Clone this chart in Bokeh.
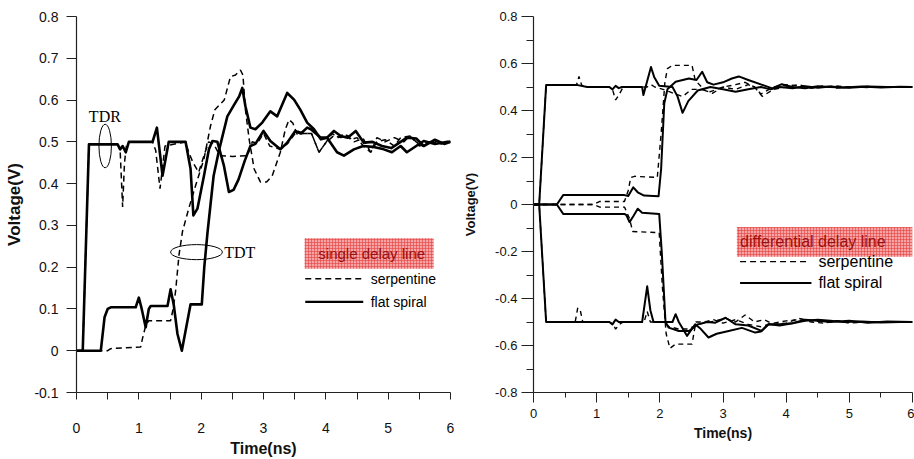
from bokeh.plotting import figure
from bokeh.layouts import row
from bokeh.models import Range1d, FixedTicker, CustomJSTickFormatter, AllLabels
from bokeh.core.properties import value
from bokeh.embed import file_html
from bokeh.resources import INLINE

# ---------------- data: left panel (single delay line) ----------------
x_ticks = [0, 1, 2, 3, 4, 5, 6]
x_minor = [0.5, 1.5, 2.5, 3.5, 4.5, 5.5]
yl_ticks = [-0.1, 0, 0.1, 0.2, 0.3, 0.4, 0.5, 0.6, 0.7, 0.8]
yr_ticks = [-0.8, -0.6, -0.4, -0.2, 0, 0.2, 0.4, 0.6, 0.8]
yr_minor = [-0.7, -0.5, -0.3, -0.1, 0.1, 0.3, 0.5, 0.7]

l_tdr_flat_t = [0, 0.1, 0.2, 0.66, 0.70, 0.74, 0.79, 0.84, 1.22, 1.29, 1.38, 1.48, 1.75, 1.83, 1.875,
                1.94, 2.045, 2.125, 2.18, 2.26, 2.365, 2.445, 2.52, 2.6, 2.7, 2.79, 2.87, 3.0, 3.11,
                3.27, 3.38, 3.51, 3.6, 3.70, 3.76, 3.92, 4.02, 4.18, 4.29, 4.45, 4.6, 4.75, 4.93,
                5.06, 5.2, 5.30, 5.45, 5.57, 5.75, 5.95, 6.0]
l_tdr_flat_v = [0, 0, 0.494, 0.494, 0.482, 0.49, 0.475, 0.5, 0.5, 0.534, 0.419, 0.5, 0.5, 0.435, 0.324,
                0.34, 0.419, 0.482, 0.502, 0.5, 0.443, 0.38, 0.385, 0.41, 0.455, 0.49, 0.495, 0.526, 0.502,
                0.482, 0.498, 0.526, 0.52, 0.534, 0.53, 0.51, 0.51, 0.475, 0.467, 0.482, 0.49, 0.488, 0.482,
                0.475, 0.49, 0.475, 0.49, 0.502, 0.495, 0.5, 0.5]

l_tdt_flat_t = [0, 0.39, 0.45, 0.50, 0.55, 0.95, 1.0, 1.04, 1.11, 1.16, 1.19, 1.46, 1.51, 1.56, 1.62,
                1.69, 1.75, 1.83, 2.01, 2.05, 2.1, 2.15, 2.2, 2.29, 2.42, 2.53, 2.61, 2.66, 2.71, 2.79,
                2.87, 2.98, 3.11, 3.22, 3.38, 3.49, 3.59, 3.70, 3.81, 3.92, 4.02, 4.13, 4.24, 4.35,
                4.48, 4.61, 4.75, 4.9, 5.05, 5.2, 5.3, 5.45, 5.57, 5.75, 5.9, 6.0]
l_tdt_flat_v = [0, 0, 0.08, 0.10, 0.104, 0.104, 0.127, 0.104, 0.056, 0.10, 0.107, 0.107, 0.147, 0.11, 0.04,
                0.0, 0.048, 0.111, 0.111, 0.2, 0.28, 0.35, 0.419, 0.482, 0.561, 0.589, 0.609, 0.629, 0.585, 0.534,
                0.53, 0.546, 0.573, 0.561, 0.617, 0.601, 0.577, 0.546, 0.53, 0.506, 0.51, 0.526, 0.514, 0.51,
                0.526, 0.498, 0.5, 0.49, 0.485, 0.5, 0.51, 0.508, 0.49, 0.505, 0.495, 0.5]

l_tdr_serp_t = [0, 0.1, 0.2, 0.66, 0.70, 0.74, 0.77, 0.80, 0.84, 1.22, 1.27, 1.34, 1.42, 1.75, 1.80, 1.87,
                1.96, 2.045, 2.12, 2.2, 2.3, 2.5, 2.74, 2.82, 2.9, 3.0, 3.1, 3.27, 3.38, 3.54, 3.65, 3.77,
                3.89, 4.0, 4.13, 4.24, 4.35, 4.45, 4.6, 4.72, 4.82, 4.95, 5.1, 5.25, 5.35, 5.5, 5.65, 5.8, 6.0]
l_tdr_serp_v = [0, 0, 0.494, 0.494, 0.48, 0.344, 0.45, 0.49, 0.5, 0.5, 0.48, 0.388, 0.49, 0.5, 0.475, 0.45,
                0.427, 0.467, 0.5, 0.495, 0.467, 0.465, 0.467, 0.5, 0.496, 0.52, 0.49, 0.482, 0.495, 0.526, 0.52, 0.52,
                0.475, 0.498, 0.515, 0.51, 0.515, 0.5, 0.508, 0.475, 0.51, 0.5, 0.51, 0.5, 0.514, 0.49, 0.5, 0.5, 0.5]

l_tdt_serp_t = [0, 0.5, 0.55, 1.03, 1.06, 1.11, 1.16, 1.51, 1.55, 1.59, 1.645, 1.70, 1.80, 1.91, 2.045,
                2.15, 2.22, 2.37, 2.47, 2.55, 2.63, 2.67, 2.71, 2.77, 2.85, 2.95, 3.05, 3.14, 3.27, 3.35,
                3.41, 3.47, 3.54, 3.65, 3.77, 3.89, 4.0, 4.1, 4.2, 4.3, 4.4, 4.5, 4.6, 4.72, 4.82, 4.95,
                5.1, 5.2, 5.35, 5.45, 5.55, 5.7, 5.85, 6.0]
l_tdt_serp_v = [0, 0, 0.005, 0.009, 0.03, 0.06, 0.072, 0.072, 0.1, 0.143, 0.23, 0.285, 0.34, 0.395, 0.459,
                0.538, 0.577, 0.60, 0.656, 0.66, 0.672, 0.66, 0.577, 0.506, 0.435, 0.404, 0.404, 0.419, 0.475, 0.53,
                0.553, 0.545, 0.518, 0.52, 0.52, 0.475, 0.498, 0.52, 0.51, 0.52, 0.505, 0.51, 0.49, 0.475, 0.5, 0.505,
                0.49, 0.51, 0.514, 0.5, 0.49, 0.5, 0.495, 0.5]

# ---------------- data: right panel (differential delay line) ----------------
r_up_tdr_flat_t = [0, 0.09, 0.2, 0.7, 0.85, 1.2, 1.25, 1.3, 1.35, 1.4, 1.72, 1.74, 1.86, 1.91, 1.99, 2.2,
                   2.28, 2.36, 2.45, 2.6, 2.8, 3.0, 3.2, 3.4, 3.6, 3.75, 3.9, 4.1, 4.3, 4.5, 4.7, 4.9,
                   5.2, 5.5, 5.8, 6.0]
r_up_tdr_flat_v = [0, 0, 0.508, 0.508, 0.5, 0.5, 0.49, 0.505, 0.495, 0.5, 0.5, 0.466, 0.585, 0.543, 0.505, 0.5,
                   0.46, 0.39, 0.44, 0.485, 0.5, 0.49, 0.48, 0.49, 0.5, 0.49, 0.5, 0.495, 0.503, 0.497, 0.502, 0.498,
                   0.502, 0.498, 0.501, 0.5]

r_up_tdt_flat_t = [0, 0.37, 0.47, 1.44, 1.5, 1.58, 1.65, 1.75, 1.98, 2.02, 2.07, 2.12, 2.25, 2.46, 2.58,
                   2.67, 2.75, 2.85, 3.0, 3.14, 3.25, 3.4, 3.61, 3.78, 3.93, 4.1, 4.3, 4.5, 4.7, 5.0,
                   5.3, 5.6, 6.0]
r_up_tdt_flat_v = [0, 0, 0.04, 0.04, 0.036, 0.073, 0.052, 0.038, 0.035, 0.15, 0.43, 0.49, 0.522, 0.536, 0.53,
                   0.565, 0.52, 0.51, 0.52, 0.536, 0.545, 0.53, 0.51, 0.494, 0.512, 0.5, 0.495, 0.503, 0.5, 0.497,
                   0.502, 0.5, 0.5]

r_up_tdr_serp_t = [0, 0.09, 0.2, 0.68, 0.72, 0.76, 0.8, 1.2, 1.25, 1.3, 1.36, 1.42, 1.8, 1.86, 1.92, 2.05,
                   2.15, 2.36, 2.5, 2.65, 2.8, 3.0, 3.2, 3.35, 3.5, 3.6, 3.8, 4.0, 4.2, 4.4, 4.6, 4.8,
                   5.0, 5.3, 5.6, 6.0]
r_up_tdr_serp_v = [0, 0, 0.508, 0.508, 0.545, 0.51, 0.5, 0.5, 0.49, 0.445, 0.47, 0.5, 0.5, 0.51, 0.5, 0.49,
                   0.48, 0.459, 0.49, 0.49, 0.48, 0.5, 0.51, 0.52, 0.5, 0.47, 0.5, 0.51, 0.505, 0.495, 0.5, 0.505,
                   0.498, 0.502, 0.5, 0.5]

r_up_tdt_serp_t = [0, 0.95, 1.05, 1.44, 1.5, 1.54, 1.6, 1.96, 2.02, 2.08, 2.12, 2.2, 2.51, 2.56, 2.71,
                   2.83, 3.0, 3.2, 3.4, 3.5, 3.62, 3.8, 4.0, 4.2, 4.4, 4.6, 4.8, 5.0, 5.3, 5.6, 6.0]
r_up_tdt_serp_v = [0, 0, 0.013, 0.013, 0.06, 0.115, 0.12, 0.115, 0.3, 0.52, 0.578, 0.592, 0.592, 0.529, 0.486,
                   0.473, 0.5, 0.49, 0.51, 0.5, 0.46, 0.49, 0.5, 0.51, 0.495, 0.505, 0.495, 0.5, 0.498, 0.502, 0.5]

r_lo_tdr_flat_t = [0, 0.09, 0.2, 1.2, 1.25, 1.3, 1.35, 1.4, 1.72, 1.80, 1.85, 1.9, 2.2, 2.25, 2.3, 2.43,
                   2.56, 2.65, 2.77, 2.9, 3.09, 3.3, 3.51, 3.6, 3.72, 3.9, 4.1, 4.3, 4.5, 4.7, 4.9,
                   5.2, 5.5, 5.8, 6.0]
r_lo_tdr_flat_v = [0, 0, -0.5, -0.5, -0.51, -0.49, -0.5, -0.5, -0.5, -0.348, -0.45, -0.5, -0.5, -0.467, -0.5, -0.559,
                   -0.51, -0.53, -0.566, -0.55, -0.538, -0.525, -0.545, -0.54, -0.51, -0.51, -0.505, -0.495, -0.49, -0.495, -0.5,
                   -0.498, -0.502, -0.5, -0.5]

r_lo_tdt_flat_t = [0, 0.37, 0.47, 1.44, 1.47, 1.52, 1.58, 1.65, 1.72, 1.99, 2.03, 2.09, 2.14, 2.3, 2.46,
                   2.6, 2.75, 2.88, 3.04, 3.2, 3.4, 3.61, 3.72, 3.9, 4.1, 4.3, 4.5, 4.7, 5.0, 5.3, 5.6, 6.0]
r_lo_tdt_flat_v = [0, 0, -0.04, -0.04, -0.045, -0.075, -0.05, -0.018, -0.035, -0.04, -0.2, -0.5, -0.524, -0.538, -0.538,
                   -0.51, -0.5, -0.503, -0.482, -0.51, -0.515, -0.538, -0.51, -0.515, -0.505, -0.49, -0.495, -0.5, -0.495,
                   -0.503, -0.498, -0.5]

r_lo_tdr_serp_t = [0, 0.09, 0.2, 0.66, 0.70, 0.74, 0.78, 1.2, 1.26, 1.3, 1.36, 1.42, 1.75, 1.8, 1.85, 2.05,
                   2.15, 2.3, 2.45, 2.6, 2.8, 2.95, 3.05, 3.2, 3.35, 3.5, 3.65, 3.8, 4.0, 4.2, 4.4, 4.6,
                   4.8, 5.0, 5.3, 5.6, 6.0]
r_lo_tdr_serp_v = [0, 0, -0.5, -0.5, -0.44, -0.45, -0.5, -0.5, -0.51, -0.53, -0.51, -0.5, -0.5, -0.455, -0.5, -0.5,
                   -0.52, -0.53, -0.53, -0.51, -0.5, -0.49, -0.485, -0.5, -0.47, -0.5, -0.49, -0.51, -0.505, -0.485, -0.495, -0.5,
                   -0.495, -0.505, -0.498, -0.5, -0.5]

r_lo_tdt_serp_t = [0, 0.95, 1.05, 1.44, 1.52, 1.57, 1.99, 2.04, 2.1, 2.16, 2.25, 2.51, 2.57, 2.7, 2.85,
                   3.0, 3.2, 3.4, 3.6, 3.8, 4.0, 4.2, 4.4, 4.6, 4.8, 5.0, 5.3, 5.6, 6.0]
r_lo_tdt_serp_v = [0, 0, -0.011, -0.011, -0.06, -0.115, -0.12, -0.35, -0.55, -0.612, -0.594, -0.594, -0.5, -0.5, -0.49,
                   -0.505, -0.49, -0.51, -0.52, -0.505, -0.495, -0.49, -0.5, -0.505, -0.495, -0.5, -0.502, -0.498, -0.5]

FONT = "Liberation Sans"
SERIF = "Liberation Serif"
AXIS_COL = "#222222"
BOX_FILL = "#f5a3a3"
BOX_HATCH = "#e23c3c"
BOX_TEXT = "#9a1010"

FMT_CODE = "return tick.toFixed(1).replace(/\\.0$/, '');"


def base_style(p, tick_size, label_size):
    p.outline_line_color = None
    p.grid.visible = False
    p.background_fill_color = "white"
    p.border_fill_color = "white"
    for ax in (p.xaxis[0], p.yaxis[0]):
        ax.major_label_policy = AllLabels()
        ax.axis_line_color = AXIS_COL
        ax.axis_line_width = 1.2
        ax.major_tick_line_color = AXIS_COL
        ax.minor_tick_line_color = AXIS_COL
        ax.major_tick_in = 0
        ax.minor_tick_in = 0
        ax.major_label_text_font = FONT
        ax.major_label_text_font_size = tick_size
        ax.major_label_text_color = "#111111"
        ax.axis_label_text_font = FONT
        ax.axis_label_text_font_style = "bold"
        ax.axis_label_text_font_size = label_size
        ax.axis_label_text_color = "#111111"


# ---------------- left figure ----------------
p1 = figure(width=460, height=459, x_range=Range1d(0, 6), y_range=Range1d(-0.1, 0.8),
            output_backend="svg", toolbar_location=None,
            min_border_left=76, min_border_right=10, min_border_top=16, min_border_bottom=63)
base_style(p1, "14px", "16px")
p1.xaxis.ticker = FixedTicker(ticks=x_ticks, minor_ticks=x_minor)
p1.yaxis.ticker = FixedTicker(ticks=yl_ticks, minor_ticks=[])
p1.xaxis.formatter = CustomJSTickFormatter(code="return tick.toFixed(0);")
p1.yaxis.formatter = CustomJSTickFormatter(code=FMT_CODE)
p1.xaxis.major_tick_out = 7
p1.xaxis.minor_tick_out = 7
p1.yaxis.major_tick_out = 10
p1.yaxis.minor_tick_out = 0
p1.xaxis.major_label_standoff = 23
p1.yaxis.major_label_standoff = 8
p1.xaxis.axis_label = "Time(ns)"
p1.yaxis.axis_label = "Voltage(V)"
p1.xaxis.axis_label_standoff = 4
p1.yaxis.axis_label_standoff = 7
p1.yaxis.axis_label_text_font_size = "17px"

SOLID_W1 = 2.6
DASH_W1 = 1.5
DASH1 = "6 4"
p1.line(l_tdr_serp_t, l_tdr_serp_v, line_color="black", line_width=DASH_W1, line_dash=DASH1)
p1.line(l_tdt_serp_t, l_tdt_serp_v, line_color="black", line_width=DASH_W1, line_dash=DASH1)
p1.line(l_tdr_flat_t, l_tdr_flat_v, line_color="black", line_width=SOLID_W1, line_join="round")
p1.line(l_tdt_flat_t, l_tdt_flat_v, line_color="black", line_width=SOLID_W1, line_join="round")

# annotations: TDR / TDT ellipses
p1.ellipse(x=[0.46], y=[0.49], width=[0.2], height=[0.104], fill_color=None, line_color="black", line_width=1)
p1.ellipse(x=[1.925], y=[0.236], width=[0.83], height=[0.036], fill_color=None, line_color="black", line_width=1)
p1.text(x=[0.455], y=[0.561], text=["TDR"], text_font=value(SERIF), text_font_size="16px",
        text_align="center", text_baseline="middle", text_color="black")
p1.text(x=[2.37], y=[0.236], text=["TDT"], text_font=value(SERIF), text_font_size="16px",
        text_align="left", text_baseline="middle", text_color="black")

# legend
p1.quad(left=[3.66], right=[5.73], bottom=[0.196], top=[0.269], fill_color=BOX_FILL, line_color=None,
        hatch_pattern="cross", hatch_color=BOX_HATCH, hatch_scale=3, hatch_weight=0.8, hatch_alpha=0.7)
p1.text(x=[3.88], y=[0.2325], text=["single delay line"], text_font=value(FONT), text_font_size="15px",
        text_align="left", text_baseline="middle", text_color=BOX_TEXT)
p1.line([3.67, 4.58], [0.172, 0.172], line_color="black", line_width=1.5, line_dash="6 4")
p1.line([3.67, 4.6], [0.117, 0.117], line_color="black", line_width=2.2)
p1.text(x=[4.72, 4.72], y=[0.172, 0.117], text=["serpentine", "flat spiral"], text_font=value(FONT),
        text_font_size="14px", text_align="left", text_baseline="middle", text_color="black")

# ---------------- right figure ----------------
p2 = figure(width=454, height=459, x_range=Range1d(0, 6), y_range=Range1d(-0.8, 0.8),
            output_backend="svg", toolbar_location=None,
            min_border_left=70, min_border_right=2, min_border_top=13, min_border_bottom=66)
base_style(p2, "13px", "14px")
p2.xaxis.ticker = FixedTicker(ticks=x_ticks, minor_ticks=x_minor)
p2.yaxis.ticker = FixedTicker(ticks=yr_ticks, minor_ticks=yr_minor)
p2.xaxis.formatter = CustomJSTickFormatter(code="return tick.toFixed(0);")
p2.yaxis.formatter = CustomJSTickFormatter(code=FMT_CODE)
p2.xaxis.major_tick_out = 10
p2.xaxis.minor_tick_out = 5
p2.yaxis.major_tick_out = 12
p2.yaxis.minor_tick_out = 7
p2.xaxis.major_label_standoff = 6
p2.yaxis.major_label_standoff = 4
p2.xaxis.axis_label = "Time(ns)"
p2.yaxis.axis_label = "Voltage(V)"
p2.xaxis.axis_label_standoff = 4
p2.yaxis.axis_label_standoff = 14
p2.yaxis.axis_label_text_font_size = "13px"

SOLID_W2 = 2.0
DASH_W2 = 1.4
DASH2 = "5 4"
for tt, vv in [(r_up_tdr_serp_t, r_up_tdr_serp_v), (r_up_tdt_serp_t, r_up_tdt_serp_v),
               (r_lo_tdr_serp_t, r_lo_tdr_serp_v), (r_lo_tdt_serp_t, r_lo_tdt_serp_v)]:
    p2.line(tt, vv, line_color="black", line_width=DASH_W2, line_dash=DASH2)
for tt, vv in [(r_up_tdr_flat_t, r_up_tdr_flat_v), (r_up_tdt_flat_t, r_up_tdt_flat_v),
               (r_lo_tdr_flat_t, r_lo_tdr_flat_v), (r_lo_tdt_flat_t, r_lo_tdt_flat_v)]:
    p2.line(tt, vv, line_color="black", line_width=SOLID_W2, line_join="round")

p2.quad(left=[3.22], right=[6.0], bottom=[-0.222], top=[-0.096], fill_color=BOX_FILL, line_color=None,
        hatch_pattern="cross", hatch_color=BOX_HATCH, hatch_scale=3, hatch_weight=0.8, hatch_alpha=0.7)
p2.text(x=[3.27], y=[-0.159], text=["differential delay line"], text_font=value(FONT), text_font_size="16px",
        text_align="left", text_baseline="middle", text_color=BOX_TEXT)
p2.line([3.27, 4.37], [-0.243, -0.243], line_color="black", line_width=1.4, line_dash="6 4")
p2.line([3.27, 4.4], [-0.334, -0.334], line_color="black", line_width=2.0)
p2.text(x=[4.51, 4.51], y=[-0.243, -0.334], text=["serpentine", "flat spiral"], text_font=value(FONT),
        text_font_size="16px", text_align="left", text_baseline="middle", text_color="black")

layout = row(p1, p2)
open("out.html", "w").write(file_html(layout, INLINE))
